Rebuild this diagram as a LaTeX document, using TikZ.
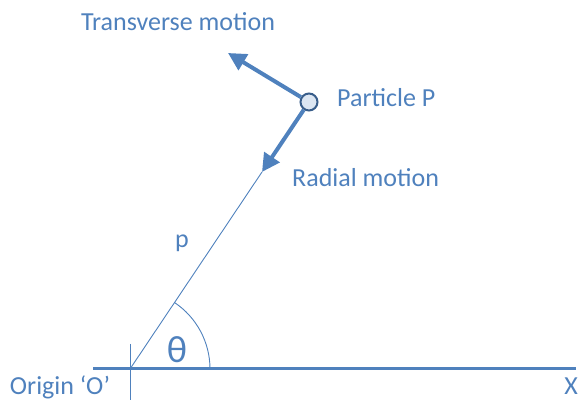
\documentclass[tikz,border=0pt]{standalone}
\usepackage{fontspec}
\setmainfont{Carlito}
\usepackage{tikz}
\usetikzlibrary{arrows.meta, positioning, calc}
\definecolor{axBlue}{RGB}{79,129,189}
\definecolor{txtBlue}{RGB}{79,129,189}
\definecolor{ptFill}{RGB}{220,230,242}
\definecolor{ptEdge}{RGB}{56,93,138}

\begin{document}
\begin{tikzpicture}[
    x=1pt, y=1pt,
    axis/.style={draw=axBlue, line width=3pt},
    thinline/.style={draw=axBlue, line width=0.9pt},
    motion/.style={draw=axBlue, line width=4pt, -{Triangle[length=18pt, width=18pt]}},
    particle/.style={circle, draw=ptEdge, fill=ptFill, line width=2pt, minimum size=17pt, inner sep=0pt},
    lbl/.style={font=\fontsize{26}{28}\selectfont, text=txtBlue, inner sep=0pt}
]
\useasboundingbox (0,0) rectangle (579,403);

% --- Origin and X axis ---
\coordinate (O) at (130,34);
\coordinate (axL) at (93,34);
\coordinate (axR) at (576,34);
\coordinate (tkT) at (130,59);
\coordinate (tkB) at (130,3);
\draw[axis] (axL) -- (axR);
\draw[thinline] (tkT) -- (tkB);

% --- Particle and its motions ---
\node[particle] (P) at (309,301) {};
\coordinate (rtip) at (262,231);
\coordinate (ttip) at (228,350);
\draw[thinline] (O) -- (rtip);
\draw[motion] (P) -- (rtip);
\draw[motion] (P) -- (ttip);

% --- Angle ---
\coordinate (arcA) at (210,34);
\draw[thinline] (arcA) arc[start angle=0, end angle=56.2, radius=80];

% --- Labels ---
\node[lbl, font=\fontsize{38}{40}\selectfont] (theta) at (177,53) {θ};
\node[lbl] (rlen) at (182,160) {p};
\node[lbl] (trans) at (178,381) {Transverse motion};
\node[lbl, anchor=west] (partl) at (337,305) {Particle P};
\node[lbl, anchor=west] (radl) at (292,225) {Radial motion};
\node[lbl, anchor=base] (orig) at (60,8) {Origin ‘O’};
\node[lbl, anchor=base east] (xl) at (578,8) {X};

\end{tikzpicture}
\end{document}
